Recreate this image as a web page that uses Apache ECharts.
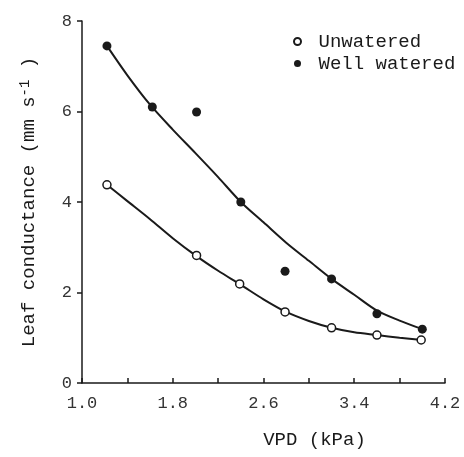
<!DOCTYPE html>
<html>
<head>
<meta charset="utf-8">
<script src="https://cdn.jsdelivr.net/npm/echarts@6/dist/echarts.min.js"></script>
<style>
  html, body { margin: 0; padding: 0; background: #fff; }
  #chart { width: 464px; height: 457px; }
</style>
</head>
<body>
<div id="chart"></div>
<script>
// measured points (VPD kPa, leaf conductance mm s-1)
const wellX = [1.22, 1.62, 2.01, 2.4, 2.79, 3.2, 3.6, 4.0]
const wellY = [7.45, 6.1, 5.99, 4.0, 2.47, 2.3, 1.53, 1.19]
const unX = [1.22, 2.01, 2.39, 2.79, 3.2, 3.6, 3.99]
const unY = [4.38, 2.82, 2.19, 1.57, 1.22, 1.06, 0.95]

// fitted curves
const curveX = [1.22, 1.4, 1.6, 1.8, 2.0, 2.2, 2.4, 2.6, 2.8, 3.0, 3.2, 3.4, 3.6, 3.8, 4.0]
const wellCurve = [7.45, 6.8, 6.15, 5.6, 5.08, 4.55, 4.0, 3.55, 3.1, 2.7, 2.3, 1.95, 1.6, 1.38, 1.19]
const unCurve = [4.38, 4.02, 3.62, 3.2, 2.82, 2.48, 2.17, 1.85, 1.57, 1.37, 1.22, 1.12, 1.06, 1.0, 0.95]

const xLabels = ['1.0', '1.8', '2.6', '3.4', '4.2']

const font = "'Liberation Mono', 'DejaVu Sans Mono', monospace"
const ink = '#1a1a1a'

const zip = (xs, ys) => xs.map((x, i) => [x, ys[i]])

const chart = echarts.init(document.getElementById('chart'))

chart.setOption({
  animation: false,
  grid: { left: 82, right: 19, top: 21, bottom: 74 },
  legend: {
    orient: 'vertical',
    left: 288,
    top: 27,
    itemGap: 3,
    itemWidth: 32,
    itemHeight: 7,
    data: ['Unwatered', 'Well watered'],
    textStyle: { fontFamily: font, fontSize: 19, color: ink, padding: [0, 0, 0, 0] },
  },
  xAxis: {
    type: 'value',
    min: 1.0,
    max: 4.2,
    interval: 0.4,
    name: 'VPD (kPa)',
    nameLocation: 'middle',
    nameGap: 47,
    nameTextStyle: { fontFamily: font, fontSize: 19, color: ink, padding: [0, 0, 0, 102] },
    axisLine: { lineStyle: { color: ink, width: 1.5 } },
    axisTick: { inside: true, length: 5, lineStyle: { color: ink, width: 1.5 } },
    axisLabel: {
      margin: 12,
      fontFamily: font,
      fontSize: 17,
      color: '#333',
      formatter: (v) => {
        const s = v.toFixed(1)
        return xLabels.includes(s) ? s : ''
      },
    },
    splitLine: { show: false },
  },
  yAxis: {
    type: 'value',
    min: 0,
    max: 8,
    interval: 2,
    name: 'Leaf conductance (mm s{sup|-1} )',
    nameLocation: 'middle',
    nameGap: 42,
    nameTextStyle: {
      fontFamily: font,
      fontSize: 19,
      color: ink,
      rich: { sup: { fontFamily: font, fontSize: 14, color: ink, verticalAlign: 'top', padding: [0, 0, 8, 0] } },
    },
    axisLine: { lineStyle: { color: ink, width: 1.5 } },
    axisTick: { length: 5, lineStyle: { color: ink, width: 1.5 } },
    axisLabel: { margin: 10, fontFamily: font, fontSize: 17, color: '#333' },
    splitLine: { show: false },
  },
  series: [
    {
      name: 'well-fit',
      type: 'line',
      smooth: 0.3,
      showSymbol: false,
      silent: true,
      lineStyle: { color: ink, width: 2 },
      data: zip(curveX, wellCurve),
      z: 1,
    },
    {
      name: 'un-fit',
      type: 'line',
      smooth: 0.3,
      showSymbol: false,
      silent: true,
      lineStyle: { color: ink, width: 2 },
      data: zip(curveX, unCurve),
      z: 1,
    },
    {
      name: 'Unwatered',
      type: 'scatter',
      symbol: 'circle',
      symbolSize: 8,
      itemStyle: { color: '#fff', borderColor: ink, borderWidth: 1.5, opacity: 1 },
      data: zip(unX, unY),
      z: 3,
    },
    {
      name: 'Well watered',
      type: 'scatter',
      symbol: 'circle',
      symbolSize: 9,
      itemStyle: { color: ink, opacity: 1 },
      data: zip(wellX, wellY),
      z: 3,
    },
  ],
})
</script>
</body>
</html>
